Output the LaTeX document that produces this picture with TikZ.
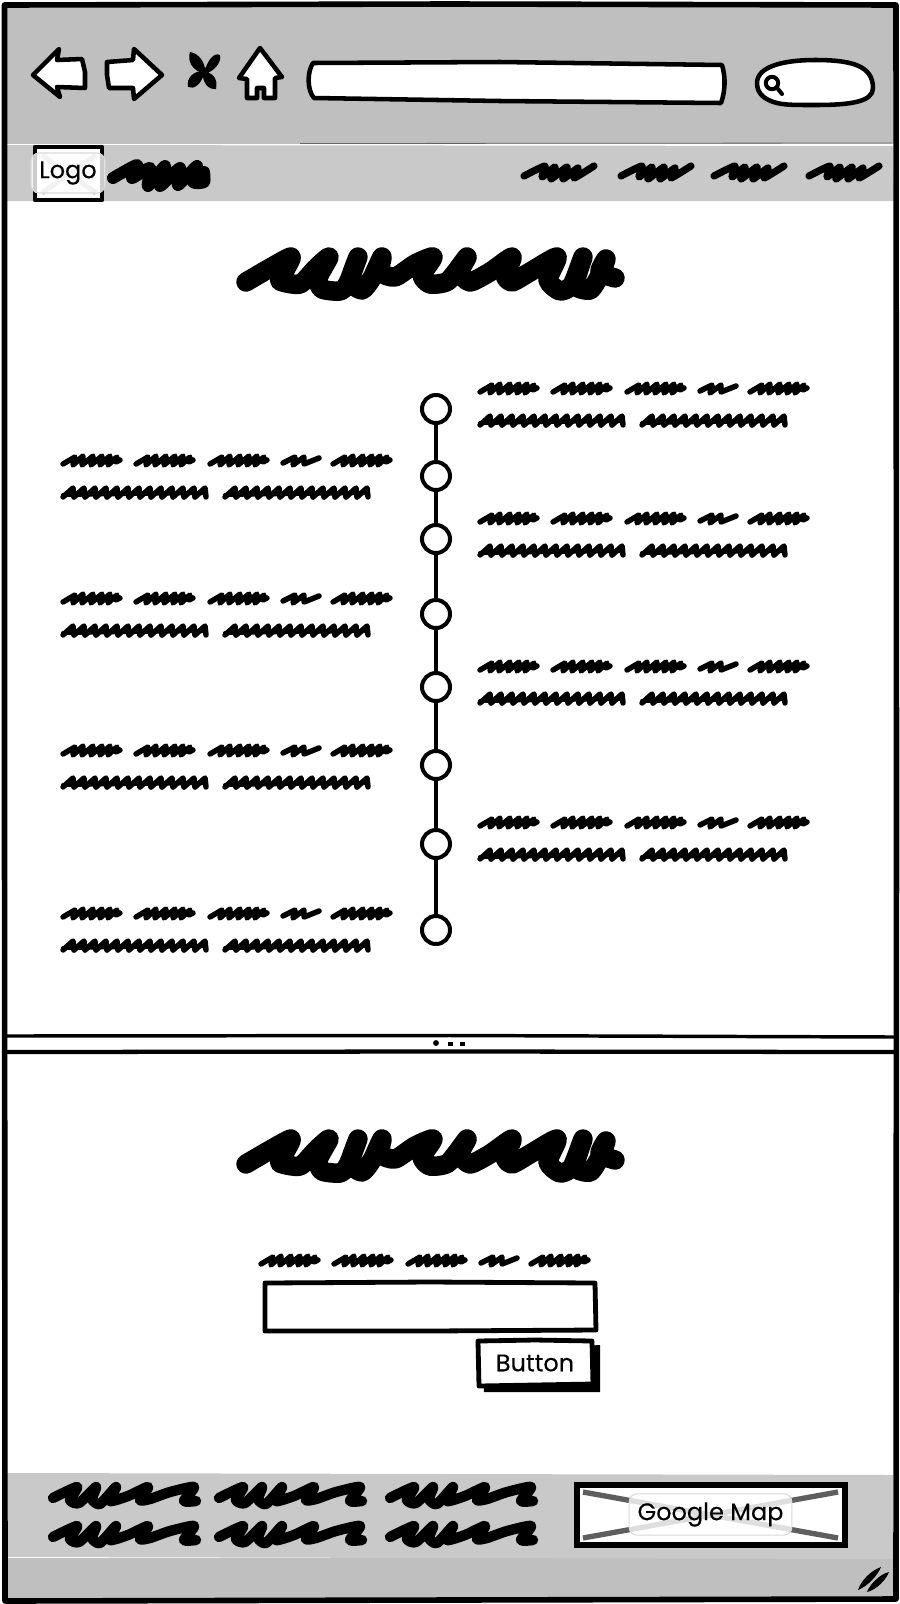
\documentclass[tikz,border=0pt]{standalone}
\usepackage{fontspec}
\setmainfont{Poppins}[FakeBold=0.3]
\definecolor{barGrey}{HTML}{BFBFBF}
\definecolor{panelGrey}{HTML}{C9C9C9}
\definecolor{crossGrey}{HTML}{5E5E5E}
\tikzset{
  ink/.style={draw=black,line width=3.4pt,line join=round,line cap=round},
  outline/.style={draw=black,line width=3.6pt,line join=round},
  scrib/.style={line width=#1,draw=black,line cap=round,line join=round},
  scrib/.default=4.1pt,
  dotnode/.style={circle,draw=black,fill=white,line width=3pt,minimum size=21pt,inner sep=0pt},
  labelbox/.style={rounded corners=6pt,draw=black!15,line width=.8pt,fill=white,fill opacity=.8,text opacity=1,
    inner sep=0pt,font=\fontsize{18}{20}\selectfont},
  wordfive/.pic={\draw[scrib] (3,4)--(15,-3)--(13,5)--(23,-4)--(22,5)--(33,-4)--(31,5)--(42,-4)--(40,5)--(50,-4)--(48,5)--(57,-3)--(56,2)--(60,0);},
  wordthree/.pic={\draw[scrib] (3,3)--(15,-3)--(13,5)--(24,-3)--(24,4)--(39,-2);},
  wordlong/.pic={\foreach \x in {3,14,...,136}{\draw[scrib] (\x,5) -- (\x+10,-4) -- (\x+11,5);}\draw[scrib=3pt] (3,3)--(145,1);},
  wordline/.pic={
    \pic at (0,0) {wordfive};\pic at (73,0) {wordfive};\pic at (147,0) {wordfive};
    \pic at (220,0) {wordthree};\pic at (270,0) {wordfive};},
  textblock/.pic={
    \pic at (0,0) {wordline};\pic at (0,32) {wordlong};\pic at (162,32) {wordlong};},
  headscrib/.pic={\draw[scrib=14.6pt] plot[smooth,tension=.4] coordinates {
    (246,282)(270,268)(291,257)(284,272)(280,281)(300,284)(316,268)(329,257)(318,278)(322,289)(340,291)(348,283)(358,257)(350,281)(362,290)(372,278)(382,257)(380,272)(395,277)(415,264)(433,257)(422,275)(430,284)(448,281)(467,257)(460,272)(470,282)(490,272)(512,257)(505,275)(512,282)(530,272)(557,257)(548,280)(560,291)(572,285)(583,257)(575,285)(590,290)(600,275)(606,259)(600,272)(615,278)};},
  navscrib/.pic={\draw[scrib=5.4pt] plot[smooth,tension=.4] coordinates {
    (4,17)(25,7)(22,18)(35,8)(31,20)(47,8)(43,20)(58,9)(54,19)(74,7)};},
  footscrib/.pic={\draw[scrib=7.8pt] plot[smooth,tension=.4] coordinates {
    (5,17)(29,6)(22,19)(31,22)(48,6)(44,18)(52,23)(68,6)(62,20)(80,15)(100,6)(92,19)(102,18)(122,11)(146,6)(136,20)(148,20)};},
}
\begin{document}
\begin{tikzpicture}[x=.75pt,y=-.75pt]
\useasboundingbox (0,0) rectangle (900,1604);
% backgrounds
\fill[white] (0,0) rectangle (900,1604);
\fill[barGrey] (5,5) rectangle (895,144);
\fill[panelGrey] (7,145) -- (893,146) -- (894,201) -- (7,201) -- cycle;
\draw[line width=.6pt,black!60] (300,143.5) -- (892,143);
\fill[barGrey] (5,1558) rectangle (895,1600);
\fill[panelGrey] (7,1473) -- (893,1475) -- (893,1559) -- (7,1557) -- cycle;
% outer window
\draw[draw=black,line width=4.2pt,line join=round] (4.5,5) -- (450,4) -- (896,5) -- (896.5,800) -- (896,1599) -- (450,1600) -- (5,1601) -- (4.5,800) -- cycle;
% divider
\draw[draw=black,line width=2.6pt] (6,1036) -- (450,1035.5) -- (894,1037);
\draw[draw=black,line width=3.2pt] (6,1052) -- (450,1051.5) -- (894,1052);
\fill (436,1043) circle (2.2pt);
\fill (448,1041.5) rectangle ++(4.5,4);
\fill (460,1041.5) rectangle ++(4.5,4);
% toolbar icons
\draw[ink,fill=white] (33,75) -- (59,49) -- (57,60) -- (82,59) -- (85,72) -- (85,88) -- (57,87) -- (60,97) -- cycle;
\draw[ink,fill=white] (107,62) -- (133,60) -- (134,49) -- (162,75) -- (134,99) -- (133,88) -- (109,88) -- (107,75) -- cycle;
\fill (204,74) .. controls (207,60) and (214,52) .. (220,55) .. controls (222,62) and (214,72) .. (204,74) -- cycle;
\fill (205,71) .. controls (202,84) and (194,90) .. (188,87) .. controls (186,78) and (194,70) .. (205,71) -- cycle;
\fill (203,72) .. controls (214,72) and (218,80) .. (216,89) .. controls (208,90) and (202,82) .. (203,72) -- cycle;
\fill (205,73) .. controls (192,72) and (187,60) .. (190,52) .. controls (198,53) and (206,62) .. (205,73) -- cycle;
\fill (204,72) circle (5);
\draw[ink,fill=white] (260,48) -- (282,77) -- (275,78) -- (275,98) -- (264,98) -- (264,88) -- (257,88) -- (257,98) -- (247,98) -- (247,79) -- (239,78) -- cycle;
% address bar
\draw[ink,fill=white] (313,63) -- (500,62) -- (722,65) .. controls (726,78) and (725,92) .. (721,103) -- (500,101) -- (314,98) .. controls (307,90) and (307,72) .. (313,63) -- cycle;
% search box
\draw[ink,fill=white] (757,83) .. controls (757,66) and (785,60) .. (815,60) .. controls (850,60) and (873,65) .. (873,88) .. controls (873,102) and (850,105) .. (815,105) .. controls (795,105) and (785,105) .. (777,103) .. controls (765,100) and (757,94) .. (757,83) -- cycle;
\draw[draw=black,line width=3pt] (772,83) circle (6.2);
\draw[draw=black,line width=3pt,line cap=round] (778,89) -- (782,94);
% logo
\draw[outline,fill=white] (35,147) rectangle (102,200);
\draw[draw=black!25,line width=3.6pt] (42,155) -- (96,193) (96,155) -- (42,193);
\node[labelbox,minimum width=55.5pt,minimum height=30pt] (logo) at (68,173) {Logo};
\draw[scrib=9pt] plot[smooth,tension=.4] coordinates {(113,178)(137,165)(132,178)(150,168)(148,186)(165,166)(160,186)(180,168)(178,185)(197,166)(193,182)(204,182)(204,172)};
% nav
\foreach \x in {520,617,710,805} \pic at (\x,159) {navscrib};
% headings
\pic at (0,0) {headscrib};
\pic at (0,882) {headscrib};
% timeline
\foreach \n/\y in {1/409,2/476,3/539,4/614,5/687,6/765,7/844,8/930}
  \node[dotnode] (t\n) at (436,\y) {};
\draw[draw=black,line width=3.4pt] (t1) -- (t2);
\draw[draw=black,line width=3.4pt] (t2) -- (t3);
\draw[draw=black,line width=3.2pt] (t3) -- (t4);
\draw[draw=black,line width=3pt] (t4) -- (t5);
\draw[draw=black,line width=2.8pt] (t5) -- (t6);
\draw[draw=black,line width=2.7pt] (t6) -- (t7);
\draw[draw=black,line width=2.7pt] (t7) -- (t8);
% text blocks
\foreach \y in {388,518,666,822} \pic at (477,\y) {textblock};
\foreach \y in {460,598,750,913} \pic at (60,\y) {textblock};
% form
\pic at (258,1260) {wordline};
\draw[outline,fill=white] (265,1283) -- (430,1282) -- (595,1283) -- (596,1330) -- (430,1331) -- (265,1331) -- cycle;
\fill (482,1352) -- (600,1345) -- (600,1392) -- (484,1392) -- cycle;
\draw[outline,fill=white] (478,1341) -- (535,1340) -- (592,1341) -- (593,1384) -- (535,1385) -- (479,1386) -- cycle;
\node[font=\fontsize{18}{20}\selectfont] (btn) at (535,1363) {Button};
% footer
\foreach \x in {48,214,385}{\pic at (\x,1481) {footscrib};\pic at (\x,1520) {footscrib};}
% map
\draw[draw=black,line width=3.8pt,fill=white] (577,1485) rectangle (845,1545);
\draw[draw=crossGrey,line width=4pt] (583,1492) -- (838,1538) (583,1538) -- (838,1492);
\node[labelbox,minimum width=122pt,minimum height=31pt] (map) at (710.5,1514.5) {Google Map};
% resize grip
\fill (858,1590) .. controls (861,1580) and (872,1570) .. (881,1567) .. controls (878,1575) and (868,1586) .. (858,1590) -- cycle;
\fill (867,1592) .. controls (870,1584) and (880,1574) .. (889,1572) .. controls (886,1580) and (876,1590) .. (867,1592) -- cycle;
\end{tikzpicture}
\end{document}
